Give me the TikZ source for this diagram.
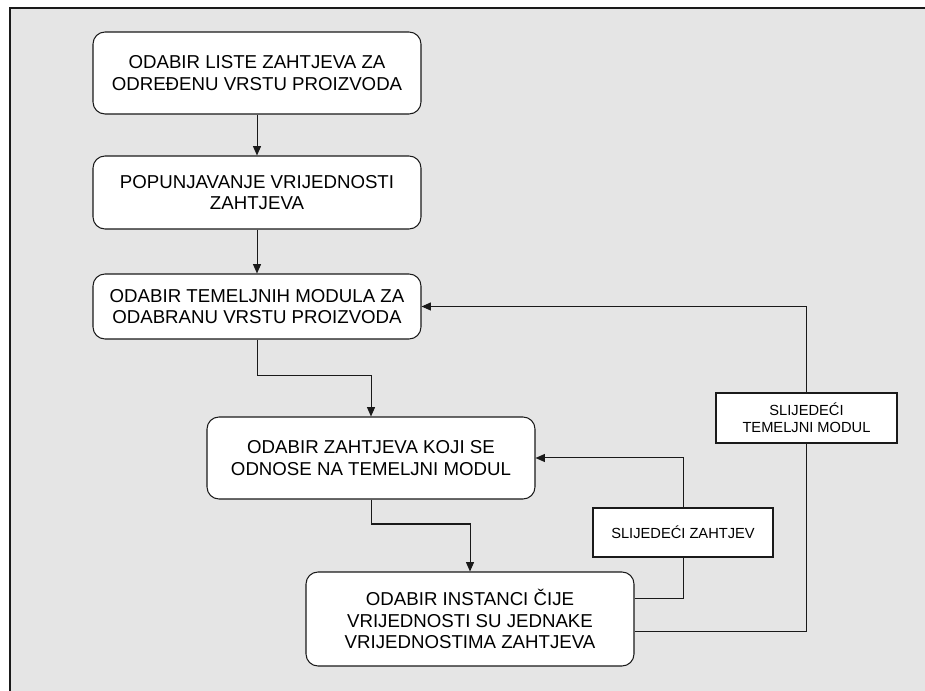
\documentclass[tikz,border=0pt]{standalone}
\usepackage{fontspec}
\setmainfont{Liberation Sans}
\usetikzlibrary{arrows.meta}
\definecolor{bgray}{HTML}{E5E5E5}
\definecolor{lcol}{HTML}{1A1A1A}
\tikzset{
  proc/.style={draw=lcol, line width=0.8pt, fill=white, rounded corners=9pt,
    minimum width=246pt, align=center, inner sep=0pt,
    font=\fontsize{14}{16.2}\selectfont},
  lab/.style={draw=lcol, line width=0.8pt, fill=white, inner sep=0pt,
    align=center, font=\fontsize{11}{12.9}\selectfont},
  conn/.style={draw=lcol, line width=0.75pt},
  arr/.style={conn, -{Triangle[length=7pt,width=6pt]}}
}
\begin{document}
\begin{tikzpicture}[x=0.75pt,y=-0.75pt]
\useasboundingbox (0,0) rectangle (925,691);
\fill[white] (0,0) rectangle (925,691);
\fill[bgray] (10,8) rectangle (925,691);
\draw[lcol, line width=1.2pt] (10,691) -- (10,8) -- (925,8);

\node[proc, minimum height=61.5pt] (b1) at (257,73) {ODABIR LISTE ZAHTJEVA ZA\\ODREĐENU VRSTU PROIZVODA};
\node[proc, minimum height=54.75pt] (b2) at (257,192.5) {POPUNJAVANJE VRIJEDNOSTI\\ZAHTJEVA};
\node[proc, minimum height=48.75pt] (b3) at (257,306.5) {ODABIR TEMELJNIH MODULA ZA\\ODABRANU VRSTU PROIZVODA};
\node[proc, minimum height=61.5pt] (b4) at (371,458) {ODABIR ZAHTJEVA KOJI SE\\ODNOSE NA TEMELJNI MODUL};
\node[proc, minimum height=70.5pt] (b5) at (470,619) {ODABIR INSTANCI ČIJE\\VRIJEDNOSTI SU JEDNAKE\\VRIJEDNOSTIMA ZAHTJEVA};
\node[lab, minimum width=135pt, minimum height=36.75pt] (sz) at (683,532.5) {SLIJEDEĆI ZAHTJEV};
\node[lab, minimum width=135.75pt, minimum height=37.5pt] (stm) at (806.5,418) {SLIJEDEĆI\\TEMELJNI MODUL};

\coordinate (m34) at (0,376);
\coordinate (m45) at (0,524);

\draw[arr] (b1) -- (b2);
\draw[arr] (b2) -- (b3);
\draw[arr] (b3.south) -- (b3.south |- m34) -| (b4.north);
\draw[arr] (b4.south) -- (b4.south |- m45) -| (b5.north);

\draw[conn] (b5.east |- 0,598) -| (sz.south);
\draw[arr] (sz.north) |- (b4.east);
\draw[conn] (b5.east |- 0,631) -| (stm.south);
\draw[arr] (stm.north) |- (b3.east);
\end{tikzpicture}
\end{document}
